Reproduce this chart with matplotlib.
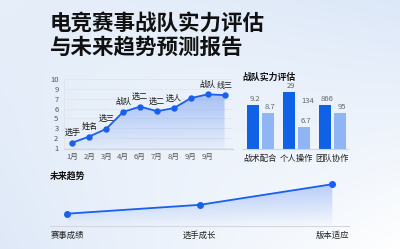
import numpy as np
import matplotlib
matplotlib.use("Agg")
import matplotlib.pyplot as plt
from matplotlib.colors import LinearSegmentedColormap

plt.rcParams['font.family'] = ['Noto Sans CJK SC', 'DejaVu Sans']

# ---------------- data ----------------
title = "电竞赛事战队实力评估\n与未来趋势预测报告"

line_x_labels = ["1月", "2月", "3月", "4月", "6月", "7月", "8月", "9月", "9月", ""]
line_values = [1.7, 2.5, 3.5, 5.7, 6.4, 5.8, 6.2, 7.5, 8.0, 7.9]
line_point_labels = ["选手", "姓名", "选三", "战队", "选二", "选二", "选人", "", "战队", "线三"]
y_tick_labels = ["1", "2", "3", "5", "6", "7", "9", "10"]

bar_title = "战队实力评估"
bar_categories = ["战术配合", "个人操作", "团队协作"]
bar_dark = [9.2, 11.8, 9.2]
bar_light = [7.5, 4.5, 7.5]
bar_dark_labels = ["9.2", "29", "866"]
bar_light_labels = ["8.7", "6.7", "95"]
bar_extra_label = "134"

trend_title = "未来趋势"
trend_categories = ["赛事成绩", "选手成长", "版本适应"]
trend_values = [3.0, 5.1, 10.0]

BLUE = "#1a5fef"
LIGHT = "#8fb5f5"
DARK_BAR = "#0f62e6"

W, H = 400, 249
fig = plt.figure(figsize=(W / 100, H / 100), dpi=100)

# ---------------- background ----------------
bg = fig.add_axes([0, 0, 1, 1], zorder=-10)
c_tl = np.array([0xe6, 0xee, 0xf9]) / 255
c_tr = np.array([0xdb, 0xe7, 0xf8]) / 255
c_bl = np.array([0xdd, 0xe8, 0xf8]) / 255
c_br = np.array([0xff, 0xff, 0xff]) / 255
u = np.linspace(0, 1, 200)[None, :, None]
v = np.linspace(0, 1, 120)[:, None, None]
img = (c_tl * (1 - u) * (1 - v) + c_tr * u * (1 - v) + c_bl * (1 - u) * v + c_br * u * v)
cx = np.exp(-(((u - 0.5) / 0.45) ** 2 + ((v - 0.55) / 0.5) ** 2))
img = img * (1 - 0.35 * cx) + 0.35 * cx * np.array([0.96, 0.975, 0.99])
bg.imshow(img, aspect='auto', extent=[0, 1, 0, 1], origin='upper')
bg.set_xlim(0, 1); bg.set_ylim(0, 1)
bg.axis('off')

fig.text(50 / W, 1 - 13 / H, title, fontsize=15.5, fontweight='bold', color='#111111',
         va='top', ha='left', linespacing=1.15)


def ax_rect(x0, x1, ytop, ybot):
    return [x0 / W, 1 - ybot / H, (x1 - x0) / W, (ybot - ytop) / H]


def gradient_fill(ax, x, y, ymin, c_top, a_top, a_bot, z=1):
    poly = ax.fill_between(x, y, ymin, facecolor='none', edgecolor='none')
    cmap = LinearSegmentedColormap.from_list('g', [(*matplotlib.colors.to_rgb(c_top), a_bot),
                                                   (*matplotlib.colors.to_rgb(c_top), a_top)])
    grad = np.linspace(0, 1, 100)[:, None]
    xmin, xmax = min(x), max(x)
    im = ax.imshow(grad, aspect='auto', cmap=cmap, origin='lower',
                   extent=[xmin, xmax, ymin, max(y)], zorder=z)
    path = poly.get_paths()[0]
    im.set_clip_path(path, transform=ax.transData)


# ---------------- line chart ----------------
ax1 = fig.add_axes(ax_rect(64, 233, 79, 149))
ax1.patch.set_alpha(0)
xs = np.arange(len(line_values))
ymin1 = 1 - 1 / 7.67
gradient_fill(ax1, xs, line_values, ymin1, BLUE, 0.32, 0.04)
ax1.plot(xs, line_values, color=BLUE, lw=1.3, marker='o', ms=3.6, zorder=3)
for xi, yi, lab in zip(xs, line_values, line_point_labels):
    if lab:
        ax1.annotate(lab, (xi, yi), xytext=(0, 4), textcoords='offset points',
                     ha='center', va='bottom', fontsize=5.8, color='#1a1a1a')
ax1.set_xlim(-0.5, 9.5)
ax1.set_ylim(ymin1, 10)
yt = np.linspace(1, 10, 8)
ax1.set_yticks(yt)
ax1.set_yticklabels(y_tick_labels)
ax1.set_xticks(xs)
ax1.set_xticklabels(line_x_labels)
ax1.tick_params(length=0, labelsize=5.5, colors='#555555', pad=2.5)
ax1.tick_params(axis='y', pad=4)
for yy in yt:
    ax1.axhline(yy, color='#e2e6ee', lw=0.6, zorder=0)
for s in ['top', 'right']:
    ax1.spines[s].set_visible(False)
ax1.spines['left'].set_color('#e0e4ea')
ax1.spines['left'].set_linewidth(0.6)
ax1.spines['bottom'].set_color('#cfd5de')
ax1.spines['bottom'].set_linewidth(0.8)

# ---------------- bar chart ----------------
ax2 = fig.add_axes(ax_rect(242.7, 348, 80, 149))
ax2.patch.set_alpha(0)
gx = np.arange(len(bar_categories))
bw = 0.34
off = 0.214
ax2.bar(gx - off, bar_dark, bw, color=DARK_BAR, zorder=2)
ax2.bar(gx + off, bar_light, bw, color=LIGHT, zorder=2)
for xi, v, lab in zip(gx, bar_dark, bar_dark_labels):
    ax2.annotate(lab, (xi - off + 0.05, v), xytext=(0, 1.5), textcoords='offset points',
                 ha='center', va='bottom', fontsize=5.5, color='#666666')
for xi, v, lab in zip(gx, bar_light, bar_light_labels):
    ax2.annotate(lab, (xi + off + 0.05, v), xytext=(0, 1.5), textcoords='offset points',
                 ha='center', va='bottom', fontsize=5.5, color='#666666')
ax2.annotate(bar_extra_label, (1 + off + 0.1, max(bar_dark)), xytext=(0, -3),
             textcoords='offset points', ha='center', va='top', fontsize=5.5, color='#666666')
ax2.set_xlim(-0.49, 2.43)
ax2.set_ylim(0, 14.4)
ax2.set_xticks(gx)
ax2.set_xticklabels(bar_categories)
ax2.set_yticks([])
ax2.tick_params(length=0, labelsize=6, colors='#222222', pad=3.5)
for s in ['top', 'right', 'left']:
    ax2.spines[s].set_visible(False)
ax2.spines['bottom'].set_color('#cfd5de')
ax2.spines['bottom'].set_linewidth(0.8)
fig.text(242.3 / W, 1 - 77.5 / H, bar_title, fontsize=6.4, fontweight='bold',
         color='#111111', ha='left', va='center')

# ---------------- trend chart ----------------
fig.text(50 / W, 1 - 176 / H, trend_title, fontsize=6.4, fontweight='bold',
         color='#111111', ha='left', va='center')
ax3 = fig.add_axes(ax_rect(50, 349, 180, 226.3))
ax3.patch.set_alpha(0)
tx = np.arange(len(trend_values))
gradient_fill(ax3, tx, trend_values, 0, BLUE, 0.28, 0.0)
ax3.plot(tx, trend_values, color=BLUE, lw=1.3, marker='o', ms=4, zorder=3)
ax3.set_xlim(-0.13, 2.126)
ax3.set_ylim(0, 11)
ax3.set_xticks(tx)
ax3.set_xticklabels(trend_categories)
ax3.set_yticks([])
ax3.tick_params(length=0, labelsize=6, colors='#222222', pad=3.5)
for s in ['top', 'right', 'left']:
    ax3.spines[s].set_visible(False)
ax3.spines['bottom'].set_color('#d3d8e0')
ax3.spines['bottom'].set_linewidth(0.8)

fig.savefig("out.png", dpi=100)
